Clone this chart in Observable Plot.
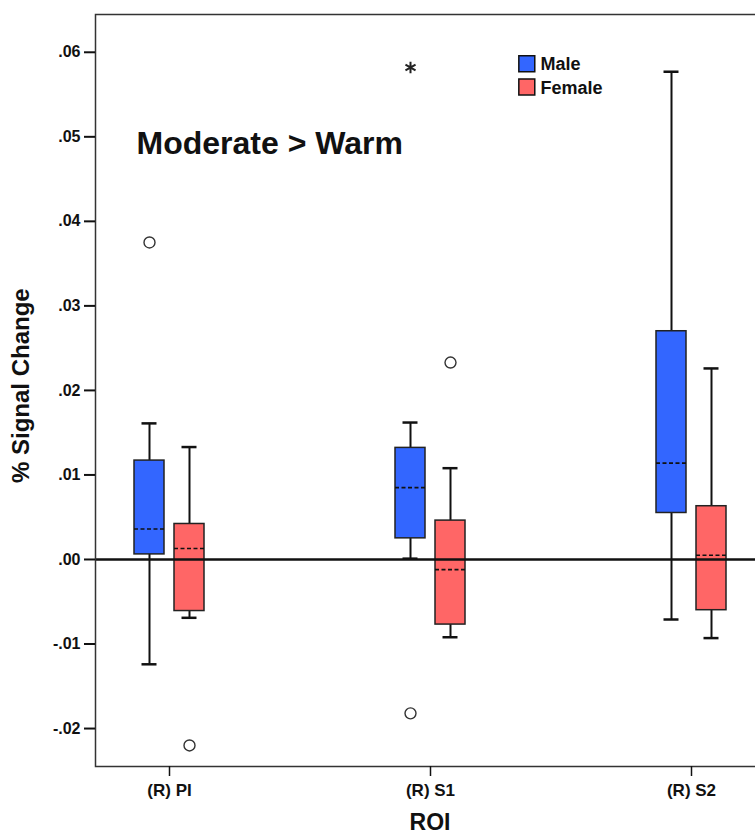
<!DOCTYPE html>
<html>
<head>
<meta charset="utf-8">
<script src="https://cdn.jsdelivr.net/npm/d3@7"></script>
<script src="https://cdn.jsdelivr.net/npm/@observablehq/plot@0.6"></script>
<style>
  body { margin: 0; background: #fff; }
  #chart svg { overflow: hidden; display: block; }
</style>
</head>
<body>
<div id="chart"></div>
<script>
const rois = ["(R) PI", "(R) S1", "(R) S2"];
const sexes = ["Male", "Female"];
const sexColors = ["#3366ff", "#ff6666"];

const boxRoi = ["(R) PI", "(R) PI", "(R) S1", "(R) S1", "(R) S2", "(R) S2"];
const boxSex = ["Male", "Female", "Male", "Female", "Male", "Female"];
const whiskerLow  = [-0.0124, -0.0069, 0.0001, -0.0092, -0.0071, -0.0093];
const q1          = [ 0.0006, -0.0061, 0.0025, -0.0077,  0.0055, -0.0060];
const median      = [ 0.0036,  0.0013, 0.0085, -0.0012,  0.0114,  0.0005];
const q3          = [ 0.0117,  0.0042, 0.0132,  0.0046,  0.0270,  0.0063];
const whiskerHigh = [ 0.0161,  0.0133, 0.0162,  0.0108,  0.0577,  0.0226];

const outlierRoi   = ["(R) PI", "(R) PI", "(R) S1", "(R) S1", "(R) S1"];
const outlierSex   = ["Male", "Female", "Male", "Male", "Female"];
const outlierValue = [0.0375, -0.0220, 0.0582, -0.0182, 0.0233];
const outlierKind  = ["circle", "circle", "asterisk", "circle", "circle"];

const yTicks = [-0.02, -0.01, 0, 0.01, 0.02, 0.03, 0.04, 0.05, 0.06];
const titleText = "Moderate > Warm";
const yLabel = "% Signal Change";
const xLabel = "ROI";

const boxes = boxRoi.map((r, i) => ({
  roi: r, sex: boxSex[i], lo: whiskerLow[i], q1: q1[i], med: median[i], q3: q3[i], hi: whiskerHigh[i]
}));
const outliers = outlierRoi.map((r, i) => ({
  roi: r, sex: outlierSex[i], value: outlierValue[i], kind: outlierKind[i]
}));

const font = "'Liberation Sans', Arial, sans-serif";
const fmt = v => (v < 0 ? "-" : "") + Math.abs(v).toFixed(2).replace(/^0/, "");

// per-sex geometry within each ROI band (bandwidth ~146px)
const geom = {
  Male:   {dx: -20, boxL: 38, boxR: 78, capL: 45.5, capR: 85.5},
  Female: {dx:  20, boxL: 78, boxR: 38, capL: 85.5, capR: 45.5}
};

const marks = [];
sexes.forEach((s, si) => {
  const g = geom[s];
  const data = boxes.filter(d => d.sex === s);
  const outs = outliers.filter(d => d.sex === s);
  marks.push(
    Plot.ruleX(data, {x: "roi", y1: "lo", y2: "q1", dx: g.dx, stroke: "#111", strokeWidth: 2}),
    Plot.ruleX(data, {x: "roi", y1: "q3", y2: "hi", dx: g.dx, stroke: "#111", strokeWidth: 2}),
    Plot.tickY(data, {x: "roi", y: "lo", insetLeft: g.capL, insetRight: g.capR, stroke: "#111", strokeWidth: 2.5}),
    Plot.tickY(data, {x: "roi", y: "hi", insetLeft: g.capL, insetRight: g.capR, stroke: "#111", strokeWidth: 2.5}),
    Plot.barY(data, {x: "roi", y1: "q1", y2: "q3", insetLeft: g.boxL, insetRight: g.boxR,
      fill: sexColors[si], stroke: "#222", strokeWidth: 1.5}),
    Plot.tickY(data, {x: "roi", y: "med", insetLeft: g.boxL, insetRight: g.boxR,
      stroke: "#111", strokeWidth: 1.6, strokeDasharray: "4,2.5"}),
    Plot.dot(outs.filter(d => d.kind === "circle"), {x: "roi", y: "value", dx: g.dx, symbol: "circle",
      r: 5.5, fill: "none", stroke: "#333", strokeWidth: 1.4}),
    Plot.dot(outs.filter(d => d.kind === "asterisk"), {x: "roi", y: "value", dx: g.dx, symbol: "asterisk",
      r: 5.5, fill: "none", stroke: "#222", strokeWidth: 2})
  );
});

// legend inside the plot
sexes.forEach((s, si) => {
  marks.push(
    Plot.dot([s], {frameAnchor: "top-left", dx: 431.3, dy: 49.2 + si * 23.2, symbol: "square", r: 9,
      fill: sexColors[si], stroke: "#111", strokeWidth: 1.5}),
    Plot.text([s], {frameAnchor: "top-left", dx: 445, dy: 43 + si * 24, textAnchor: "start",
      fontSize: 18, fontWeight: "bold", fill: "#111"})
  );
});

const chart = Plot.plot({
  width: 755,
  height: 840,
  marginLeft: 95,
  marginRight: -9,
  marginTop: 14,
  marginBottom: 74,
  style: {fontFamily: font, background: "#fff", color: "#111"},
  x: {type: "band", domain: rois, paddingInner: 0.442, paddingOuter: 0, label: null},
  y: {domain: [-0.02449, 0.06447], label: null},
  marks: [
    ...marks,
    Plot.ruleY([0], {stroke: "#111", strokeWidth: 2.5}),
    Plot.frame({stroke: "#333", strokeWidth: 1.5}),
    Plot.axisY(yTicks, {tickSize: 11, tickPadding: 4, tickFormat: fmt, fontSize: 16, fontWeight: "bold",
      stroke: "#111", strokeWidth: 2, label: null}),
    Plot.axisX({tickSize: 10, tickPadding: 7, fontSize: 17, fontWeight: "bold", stroke: "#111",
      strokeWidth: 1.5, label: null}),
    Plot.text([titleText], {frameAnchor: "top-left", dx: 41, dy: 116.5, textAnchor: "start",
      fontSize: 32, fontWeight: "bold", fill: "#111"}),
    Plot.text([yLabel], {frameAnchor: "left", dx: -74, dy: 92.5, rotate: -90,
      fontSize: 24, fontWeight: "bold", fill: "#111"}),
    Plot.text([xLabel], {frameAnchor: "bottom", dy: 63, fontSize: 23, fontWeight: "bold", fill: "#111"})
  ]
});
document.getElementById("chart").appendChild(chart);
</script>
</body>
</html>
